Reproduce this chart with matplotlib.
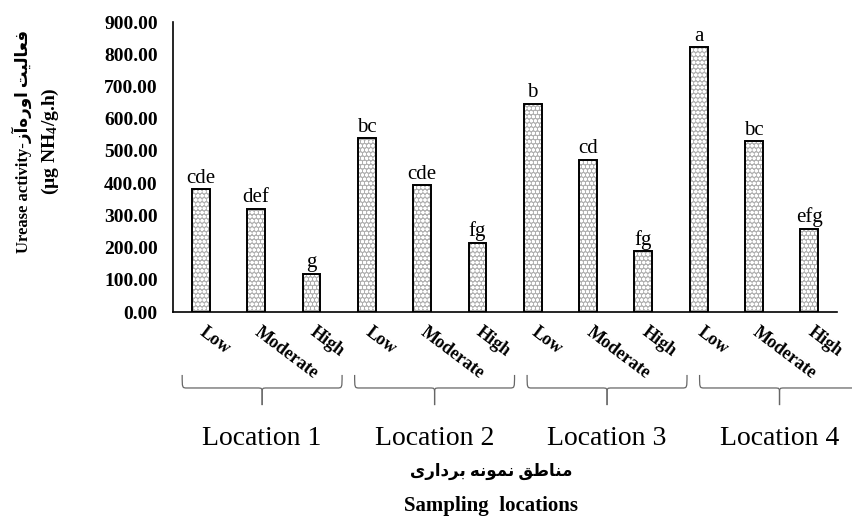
import matplotlib
matplotlib.use("Agg")
import matplotlib.pyplot as plt
import matplotlib.transforms as mtransforms
from matplotlib.path import Path
from matplotlib.patches import PathPatch
import numpy as np

# ---------------- data ----------------
locations = ["Location 1", "Location 2", "Location 3", "Location 4"]
levels = ["Low", "Moderate", "High"]
values = [381, 321, 119, 540, 393, 215, 647, 473, 189, 822, 530, 259]
letters = ["cde", "def", "g", "bc", "cde", "fg", "b", "cd", "fg", "a", "bc", "efg"]
y_ticks = [0, 100, 200, 300, 400, 500, 600, 700, 800, 900]
ylabel_fa = "فعالیت اوره\u200cآز"
ylabel_en = "Urease activity-"
ylabel_unit = r"(µg NH$_\mathbf{4}$/g.h)"
xlabel_fa = "مناطق نمونه برداری"
xlabel_en = "Sampling  locations"

# ------------- minimal Persian shaping (presentation forms) -------------
FORMS = {  # isolated, final, initial, medial
    "ا": ("\uFE8D", "\uFE8E", None, None),
    "آ": ("\uFE81", "\uFE82", None, None),
    "د": ("\uFEA9", "\uFEAA", None, None),
    "ر": ("\uFEAD", "\uFEAE", None, None),
    "ز": ("\uFEAF", "\uFEB0", None, None),
    "و": ("\uFEED", "\uFEEE", None, None),
    "ب": ("\uFE8F", "\uFE90", "\uFE91", "\uFE92"),
    "ت": ("\uFE95", "\uFE96", "\uFE97", "\uFE98"),
    "ط": ("\uFEC1", "\uFEC2", "\uFEC3", "\uFEC4"),
    "ع": ("\uFEC9", "\uFECA", "\uFECB", "\uFECC"),
    "ف": ("\uFED1", "\uFED2", "\uFED3", "\uFED4"),
    "ق": ("\uFED5", "\uFED6", "\uFED7", "\uFED8"),
    "ل": ("\uFEDD", "\uFEDE", "\uFEDF", "\uFEE0"),
    "م": ("\uFEE1", "\uFEE2", "\uFEE3", "\uFEE4"),
    "ن": ("\uFEE5", "\uFEE6", "\uFEE7", "\uFEE8"),
    "ه": ("\uFEE9", "\uFEEA", "\uFEEB", "\uFEEC"),
    "ی": ("\uFBFC", "\uFBFD", "\uFBFE", "\uFBFF"),
}


def shape_fa(s):
    out = []
    n = len(s)
    for i, ch in enumerate(s):
        if ch not in FORMS:
            if ch != "\u200c":
                out.append(ch)
            continue
        prev = s[i - 1] if i > 0 else None
        nxt = s[i + 1] if i + 1 < n else None
        join_prev = prev in FORMS and FORMS[prev][2] is not None
        join_next = FORMS[ch][2] is not None and nxt in FORMS
        iso, fin, ini, med = FORMS[ch]
        if join_prev and join_next:
            g = med
        elif join_prev:
            g = fin
        elif join_next:
            g = ini
        else:
            g = iso
        out.append(g)
    return "".join(reversed(out))


# ---------------- style ----------------
plt.rcParams["font.family"] = ["Liberation Serif", "DejaVu Sans"]
plt.rcParams["mathtext.fontset"] = "custom"
plt.rcParams["mathtext.rm"] = "Liberation Serif"
plt.rcParams["mathtext.bf"] = "Liberation Serif:bold"
plt.rcParams["mathtext.it"] = "Liberation Serif:italic"
plt.rcParams["hatch.linewidth"] = 1.0

fig = plt.figure(figsize=(8.52, 5.17), dpi=100)
ax = fig.add_axes([0.2031, 0.3965, 0.7793, 0.5609])

x = np.arange(len(values))
bw = 0.32
ax.bar(x, values, width=bw, color="#b0b0b0", edgecolor="white", hatch="oooo",
       linewidth=0, zorder=2)
ax.bar(x, values, width=bw, facecolor="none", edgecolor="black", linewidth=1.4,
       zorder=3)

for xi, v, lab in zip(x, values, letters):
    ax.annotate(lab, (xi, v), xytext=(0, 1), textcoords="offset points",
                ha="center", va="bottom", fontsize=15)

ax.set_xlim(-0.5, len(values) - 0.5)
ax.set_ylim(0, 900)
ax.set_yticks(y_ticks, [f"{t:.2f}" for t in y_ticks], fontsize=14,
              fontweight="bold")
ax.tick_params(axis="y", length=0, pad=11)
tick_labels = [levels[i % 3] for i in range(len(values))]
ax.set_xticks(x + 0.1, tick_labels, rotation=-37, ha="left", va="top",
              rotation_mode="anchor", fontsize=13, fontweight="bold")
ax.tick_params(axis="x", length=0, pad=8)

for s in ["top", "right"]:
    ax.spines[s].set_visible(False)
for s in ["left", "bottom"]:
    ax.spines[s].set_linewidth(1.2)

# ------------- group braces & labels -------------
trans = mtransforms.blended_transform_factory(ax.transData, ax.transAxes)
brace_start = 1.11
brace_step = 3.117
half = 1.445
y_top, y_h, y_s = -0.217, -0.262, -0.321
r = 0.09
for g, name in enumerate(locations):
    xc = brace_start + brace_step * g
    for side in (-1, 1):
        xe = xc + side * half
        verts = [(xe, y_top), (xe, y_h), (xe, y_h), (xe - side * r, y_h),
                 (xc + side * r, y_h), (xc, y_h), (xc, y_h), (xc, y_h - 0.02),
                 (xc, y_s)]
        codes = [Path.MOVETO, Path.CURVE4, Path.CURVE4, Path.CURVE4,
                 Path.LINETO, Path.CURVE4, Path.CURVE4, Path.CURVE4,
                 Path.LINETO]
        ax.add_patch(PathPatch(Path(verts, codes), transform=trans,
                               facecolor="none", edgecolor="#666666",
                               linewidth=0.9, clip_on=False))
    ax.text(xc, -0.459, name, transform=trans, ha="center", va="baseline",
            fontsize=20)

# ------------- axis titles -------------
fig.text(0.026, 0.727, ylabel_en + shape_fa(ylabel_fa), rotation=90,
         ha="center", va="center", fontsize=12, fontweight="bold")
fig.text(0.059, 0.727, ylabel_unit, rotation=90, ha="center", va="center",
         fontsize=14, fontweight="bold")
fig.text(0.576, 0.089, shape_fa(xlabel_fa), ha="center", va="center",
         fontsize=12, fontweight="bold")
fig.text(0.576, 0.012, xlabel_en, ha="center", va="baseline",
         fontsize=15, fontweight="bold")

fig.savefig("out.png", dpi=100)
